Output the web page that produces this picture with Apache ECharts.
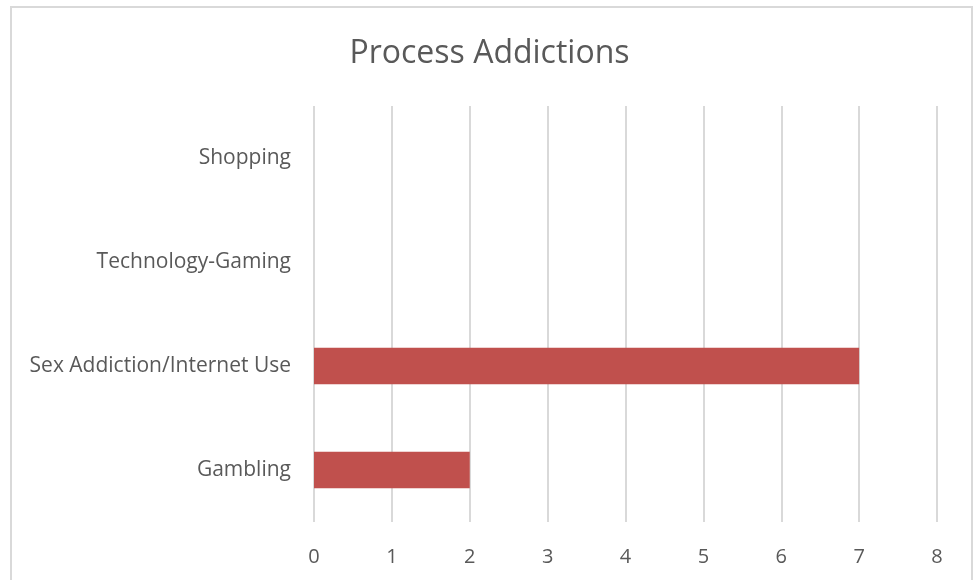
<!DOCTYPE html>
<html>
<head>
<meta charset="utf-8">
<script src="https://cdn.jsdelivr.net/npm/echarts@6/dist/echarts.min.js"></script>
<style>
html,body{margin:0;padding:0;background:#fff;}
#chart{width:979px;height:580px;}
</style>
</head>
<body>
<div id="chart"></div>
<script>
const titleText = "Process Addictions";
const categories = ["Gambling", "Sex Addiction/Internet Use", "Technology-Gaming", "Shopping"];
const values = [2, 7, 0, 0];
const xTicks = [0, 1, 2, 3, 4, 5, 6, 7, 8];

const chart = echarts.init(document.getElementById('chart'), null, {renderer: 'canvas'});
const font = "'Open Sans', 'Noto Sans', sans-serif";
chart.setOption({
  backgroundColor: '#ffffff',
  animation: false,
  title: {
    text: titleText,
    left: 'center',
    top: 33,
    textStyle: {fontFamily: font, fontSize: 32, fontWeight: 'normal', color: '#595959'}
  },
  graphic: [{
    type: 'rect',
    shape: {x: 11, y: 7, width: 961, height: 600},
    style: {fill: 'none', stroke: '#D9D9D9', lineWidth: 2},
    silent: true,
    z: -1
  }],
  grid: {left: 314, right: 42, top: 106, bottom: 58, containLabel: false},
  xAxis: {
    type: 'value',
    min: xTicks[0],
    max: xTicks[xTicks.length - 1],
    interval: 1,
    axisLine: {show: false},
    axisTick: {show: false},
    splitLine: {show: true, lineStyle: {color: '#D9D9D9', width: 2}},
    axisLabel: {fontFamily: font, fontSize: 20, color: '#595959', margin: 25}
  },
  yAxis: {
    type: 'category',
    data: categories,
    axisLine: {show: false},
    axisTick: {show: false},
    splitLine: {show: false},
    axisLabel: {fontFamily: font, fontSize: 21, color: '#595959', margin: 23}
  },
  series: [{
    type: 'bar',
    data: values,
    barCategoryGap: '65%',
    itemStyle: {color: '#C0504D'}
  }]
});
</script>
</body>
</html>
